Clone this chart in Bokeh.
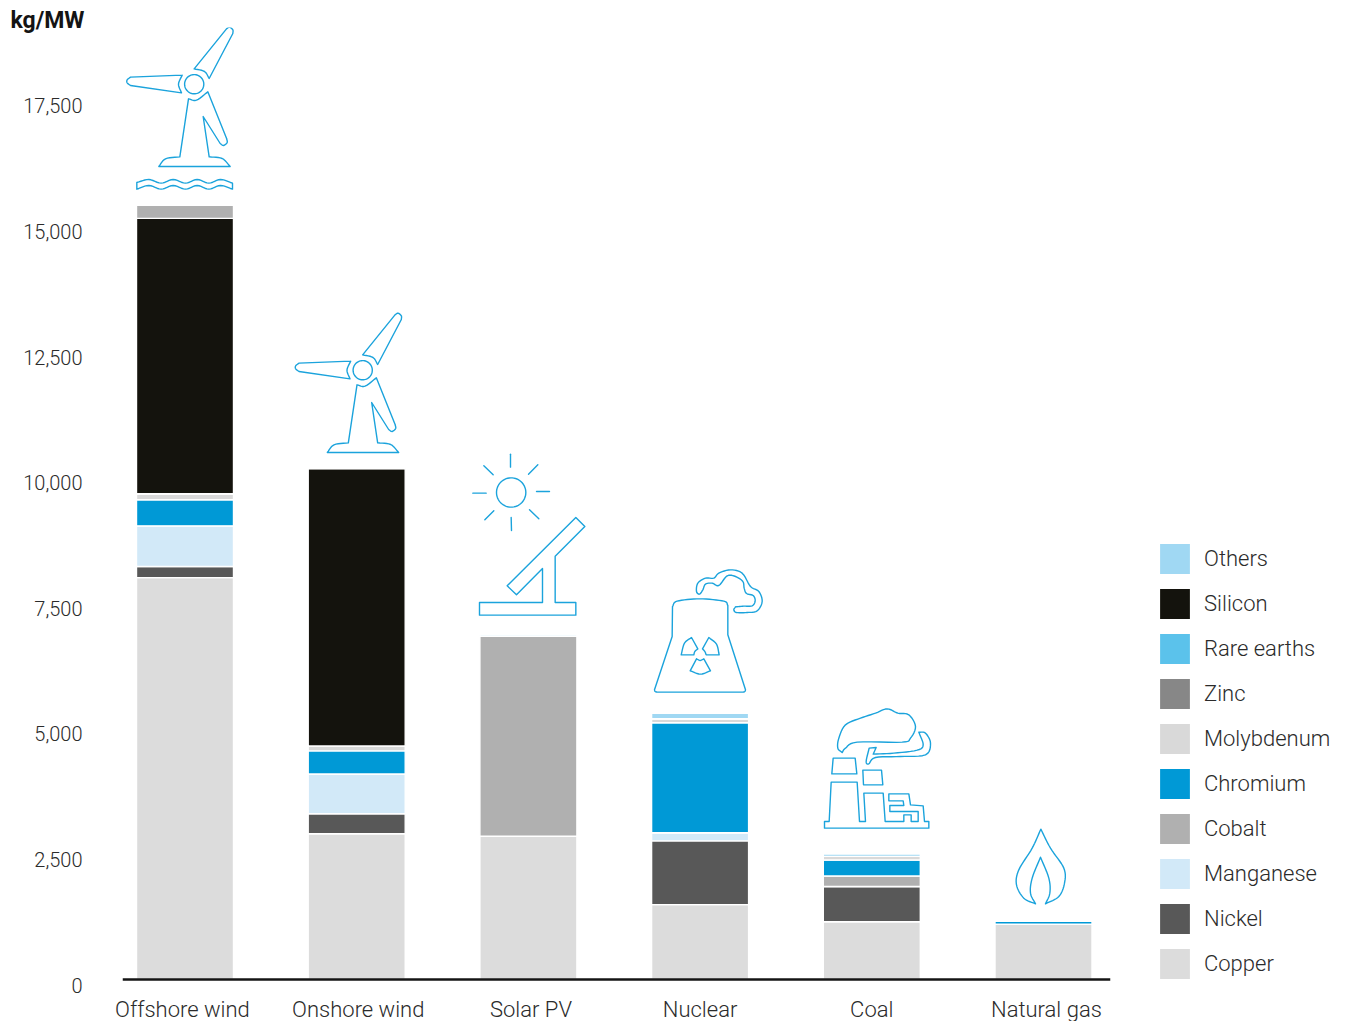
import numpy as np
from bokeh.embed import file_html
from bokeh.models import (CanvasTexture, ColumnDataSource, FixedTicker, Label, Legend, LegendItem,
                          LinearAxis, NumeralTickFormatter, Range1d, Span)
from bokeh.plotting import figure
from bokeh.resources import INLINE

# ---------- data ----------
categories = ["Offshore wind", "Onshore wind", "Solar PV", "Nuclear", "Coal", "Natural gas"]
copper = [8000, 2900, 2850, 1490, 1150, 1100]
nickel = [220, 400, 0, 1270, 700, 0]
manganese = [810, 790, 0, 160, 0, 0]
cobalt = [0, 0, 3980, 0, 210, 0]
chromium = [520, 460, 0, 2190, 320, 70]
molybdenum = [120, 100, 0, 80, 70, 0]
zinc = [0, 0, 0, 0, 0, 0]
rare_earths = [0, 0, 0, 0, 0, 0]
silicon = [5480, 5520, 0, 0, 0, 0]
others = [0, 0, 30, 110, 50, 0]
cobalt_upper = [260, 15, 0, 0, 0, 0]   # the grey cap drawn above the black segment
tick_values = [0, 2500, 5000, 7500, 10000, 12500, 15000, 17500]

series = [
    ("Copper", copper, "#dcdcdc"), ("Nickel", nickel, "#585858"),
    ("Manganese", manganese, "#d2e9f8"), ("Cobalt", cobalt, "#b0b0b0"),
    ("Chromium", chromium, "#0099d6"), ("Molybdenum", molybdenum, "#d9d9d9"),
    ("Zinc", zinc, "#878787"), ("Rare earths", rare_earths, "#5bc2eb"),
    ("Silicon", silicon, "#14130d"), ("Others", others, "#a0d8f3"),
    ("Cobalt cap", cobalt_upper, "#b0b0b0"),
]

FONT = "Roboto Light"
TEXT = "#2b2b2b"
ICON = "#1ba3dc"

# ---------- figure geometry (frame = page x 122..1110, y TOP..FB; zero line at BASE) ----------
TOP = 26
BASE = 978
FB = 986
PX_PER_UNIT = 125.6 / 2500
y_top = (BASE - TOP) / PX_PER_UNIT
y_bot = -(FB - BASE) / PX_PER_UNIT
x0 = -62.5 / 171.7
x1 = 5 + 67 / 171.7

p = figure(frame_width=988, frame_height=FB - TOP, output_backend="svg", toolbar_location=None,
           x_range=Range1d(x0, x1), y_range=Range1d(y_bot, y_top), y_axis_location=None,
           min_border_left=122, min_border_right=230, min_border_top=TOP, min_border_bottom=35)
p.outline_line_color = None
p.grid.visible = False
p.background_fill_color = None

unit_label = Label(x=-112, y=7, x_units="screen", y_units="screen", text="kg/MW",
                   text_font="Roboto", text_font_style="bold", text_font_size="23px",
                   text_color="#141414", text_baseline="middle")
p.add_layout(unit_label, "above")

# ranges in page pixels for the decorative icons, and a shifted one for the tick labels
p.extra_x_ranges["px"] = Range1d(122, 1110)
p.extra_y_ranges["px"] = Range1d(FB, TOP)
shift = 5.5 / PX_PER_UNIT
p.extra_y_ranges["ticks"] = Range1d(y_bot + shift, y_top + shift)

yaxis = LinearAxis(y_range_name="ticks", ticker=FixedTicker(ticks=tick_values),
                   formatter=NumeralTickFormatter(format="0,0"))
yaxis.axis_line_color = None
yaxis.major_tick_line_color = None
yaxis.minor_tick_line_color = None
yaxis.major_label_standoff = 34
yaxis.major_label_text_font = FONT
yaxis.major_label_text_font_size = "20px"
yaxis.major_label_text_color = TEXT
p.add_layout(yaxis, "left")

xaxis = p.xaxis[0]
label_ticks = [-0.015, 1.009, 2.015, 3, 4, 5.017]
xaxis.ticker = FixedTicker(ticks=label_ticks)
xaxis.major_label_overrides = {t: c for t, c in zip(label_ticks, categories)}
xaxis.axis_line_color = None
xaxis.major_tick_line_color = None
xaxis.minor_tick_line_color = None
xaxis.major_label_standoff = 3
xaxis.major_label_text_font = FONT
xaxis.major_label_text_font_size = "22px"
xaxis.major_label_text_color = TEXT

# ---------- stacked bars ----------
data = {"x": list(range(len(categories)))}
for name, values, _ in series:
    data[name] = values
source = ColumnDataSource(data)

rends = p.vbar_stack([s[0] for s in series], x="x", width=97 / 171.7, source=source,
                     color=[s[2] for s in series], line_color="white", line_width=1.4)
by_name = {s[0]: r for s, r in zip(series, rends)}
stripes = CanvasTexture(repetition="repeat", code="""
    const h = scale;
    ctx.strokeStyle = color;
    ctx.lineWidth = weight;
    ctx.lineCap = "square";
    ctx.beginPath();
    for (let i = -1; i <= 1; i++) {
        ctx.moveTo(i * h, 0);
        ctx.lineTo((i + 1) * h, h);
    }
    ctx.stroke();
""")
cop = by_name["Copper"].glyph
cop.hatch_extra = {"stripes": stripes}
cop.hatch_pattern = "stripes"
cop.hatch_color = "white"
cop.hatch_weight = 4.5
cop.hatch_scale = 14
cop.hatch_alpha = 1.0

p.add_layout(Span(location=0, dimension="width", line_color="#141414", line_width=2.5))


# ---------- icons, given in page pixels ----------
def cr(points, n=10):
    """Catmull-Rom through points, returned as list of (x, y)."""
    P = np.array(points, float)
    P = np.vstack([2 * P[0] - P[1], P, 2 * P[-1] - P[-2]])
    out = []
    for i in range(1, len(P) - 2):
        for t in np.linspace(0, 1, n, endpoint=False):
            a, b, c, d = P[i - 1], P[i], P[i + 1], P[i + 2]
            out.append(0.5 * (2 * b + (c - a) * t + (2 * a - 5 * b + 4 * c - d) * t ** 2
                              + (3 * b - a - 3 * c + d) * t ** 3))
    out.append(P[-2])
    return [tuple(q) for q in out]


def z(pts, ox, oy, s=3.0):
    return [(ox + a / s, oy + b / s) for a, b in pts]


icon_paths = []


def add(path, close=True):
    if close:
        path = list(path) + [path[0]]
    icon_paths.append(path)


def circle(cx, cy, r):
    t = np.linspace(0, 2 * np.pi, 60)
    add([(cx + r * np.cos(a), cy + r * np.sin(a)) for a in t], close=False)


def turbine(dx, dy, ox=120, oy=10):
    f = lambda pts: [(a + dx, b + dy) for a, b in z(pts, ox, oy)]
    cx, cy = 193.7 + dx, 82.7 + dy
    circle(cx, cy, 9.6)
    add(f([(221, 172), (318, 52)]) + f(cr([(318, 52), (327, 47), (337, 55), (337, 66)], 5))
        + f([(266, 201)]) + f(cr([(266, 201), (252, 180), (221, 172)], 6)))
    add(f([(185, 191), (30, 197)]) + f(cr([(30, 197), (20, 205), (20, 214), (30, 222)], 5))
        + f([(183, 244)]) + f(cr([(183, 244), (174, 218), (185, 191)], 6)))
    add(f(cr([(204, 262), (228, 266), (262, 241)], 6)) + f([(318, 380)])
        + f(cr([(318, 380), (320, 393), (309, 402), (299, 396)], 5))
        + f([(248, 315), (266, 436)])
        + f(cr([(266, 436), (305, 441), (329, 465)], 6))
        + f([(115, 465)]) + f(cr([(115, 465), (135, 442), (178, 436)], 6)))


turbine(0, 0)
turbine(168.5, 286)
# water below the offshore turbine
add(z(cr([(49, 513), (85, 504), (122, 515), (158, 504), (195, 515), (230, 504), (265, 515),
          (300, 504), (336, 515)], 6), 120, 10)
    + z(cr([(336, 533), (300, 522), (265, 533), (230, 522), (195, 533), (158, 522), (122, 533),
            (85, 522), (49, 533)], 6), 120, 10))
# solar
circle(460 + 152 / 3, 440 + 153 / 3, 44 / 3)
for a, b in [((150, 38), (150, 77)), ((152, 228), (153, 267)), ((37, 155), (77, 155)),
             ((228, 150), (267, 150)), ((70, 73), (98, 100)), ((232, 70), (204, 98)),
             ((100, 208), (73, 235)), ((207, 205), (235, 232))]:
    add(z([a, b], 460, 440), close=False)
add(z([(346, 228), (373, 255), (284, 344), (284, 483), (346, 483), (346, 521), (57, 521),
       (57, 483), (246, 483), (246, 381), (168, 460), (140, 433)], 460, 440))
# nuclear
add(z(cr([(636, 495), (650, 479), (718, 472), (790, 479), (802, 492)], 8)
      + [(802, 580), (855, 745)] + cr([(855, 745), (853, 750), (848, 752)], 3)
      + [(590, 752)] + cr([(590, 752), (584, 750), (582, 745)], 3) + [(635, 585)], 460, 440))
add(z([(712, 622)] + [(693, 588)] + cr([(693, 588), (672, 605), (662, 640)], 6)
      + [(700, 640)] + cr([(700, 640), (703, 630), (712, 622)], 3), 460, 440))
add(z([(726, 622), (745, 588)] + cr([(745, 588), (768, 608), (776, 640)], 6)
      + [(737, 640)] + cr([(737, 640), (733, 630), (726, 622)], 3), 460, 440))
add(z(cr([(708, 652), (719, 657), (730, 652)], 3) + [(750, 688)]
      + cr([(750, 688), (720, 698), (689, 688)], 6), 460, 440))
add(z(cr([(825, 496), (850, 494), (875, 493), (884, 478), (878, 462), (858, 456), (851, 440),
          (847, 420), (825, 405), (800, 403), (775, 432), (755, 425), (735, 428), (727, 445),
          (717, 458), (708, 450), (712, 425), (735, 410), (760, 410), (775, 395), (810, 385),
          (845, 395), (870, 435), (895, 450), (905, 480), (890, 508), (860, 513), (828, 513),
          (820, 505), (825, 496)], 6), 460, 440), close=False)
# coal
add(z([(12, 230), (12, 210), (26, 210), (32, 92), (110, 92), (117, 210), (135, 210), (130, 125),
       (188, 125), (194, 210), (250, 210), (250, 190), (272, 190), (272, 210), (293, 210),
       (293, 180), (208, 180), (208, 162), (250, 162), (248, 148), (205, 148), (205, 127),
       (265, 127), (270, 160), (308, 163), (312, 210), (325, 210), (325, 230)], 820, 750))
add(z([(34, 67), (38, 20), (104, 20), (109, 67)], 820, 750))
add(z([(129, 100), (127, 56), (183, 56), (187, 100)], 820, 750))
add(z(cr([(95, 153), (82, 140), (85, 110), (105, 70), (150, 50), (195, 35), (230, 22), (262, 35),
          (295, 40), (315, 75), (300, 110), (275, 122), (140, 122), (105, 140), (95, 153)], 6),
      810, 700), close=False)
add(z([(176, 140), (197, 138)] + cr([(188, 158), (250, 155), (320, 146), (338, 130), (325, 92)], 6)
      + cr([(325, 92), (345, 95), (360, 125), (345, 160), (270, 165), (195, 168), (175, 187), (167, 180),
            (176, 140)], 6), 810, 700), close=False)
# gas flame
add(z(cr([(675, 607), (640, 590), (618, 550), (625, 505), (665, 440), (691, 383)], 8)
      + cr([(691, 383), (720, 440), (760, 500), (762, 545), (745, 585), (705, 607)], 8)
      + cr([(705, 607), (718, 575), (715, 530), (690, 467)], 6)
      + cr([(690, 467), (665, 530), (660, 575), (675, 607)], 6), 810, 700), close=False)

p.multi_line([[a for a, _ in path] for path in icon_paths],
             [[b for _, b in path] for path in icon_paths],
             x_range_name="px", y_range_name="px",
             line_color=ICON, line_width=1.4, line_join="round", line_cap="round")

# ---------- legend ----------
order = ["Others", "Silicon", "Rare earths", "Zinc", "Molybdenum", "Chromium", "Cobalt",
         "Manganese", "Nickel", "Copper"]
legend = Legend(items=[LegendItem(label=n, renderers=[by_name[n]]) for n in order],
                location=(45, 4), orientation="vertical",
                glyph_width=39, glyph_height=39, label_standoff=10, spacing=6,
                padding=0, margin=0, border_line_color=None, background_fill_color=None,
                label_text_font=FONT, label_text_font_size="22px", label_text_color=TEXT)
p.add_layout(legend, "right")

open("out.html", "w").write(file_html(p, INLINE))
